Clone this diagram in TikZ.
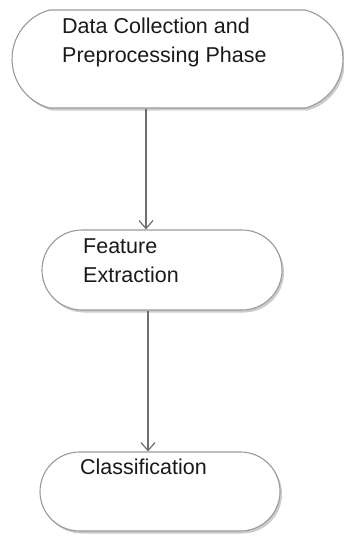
\documentclass[tikz,border=0pt]{standalone}
\usepackage{fontspec}
\setmainfont{Liberation Sans}
\usepackage{xcolor}
\usetikzlibrary{shapes.misc,shadows,arrows.meta}

\definecolor{boxline}{HTML}{9A9A9A}
\definecolor{flowline}{HTML}{6E6E6E}
\definecolor{boxtext}{HTML}{1A1A1A}

\begin{document}
\begin{tikzpicture}[x=1pt,y=-1pt]
\tikzstyle{every node}+=[inner sep=0pt]
\tikzstyle{phase}=[rounded rectangle,draw=boxline,line width=1.1pt,fill=white,
  drop shadow={shadow xshift=2pt,shadow yshift=-2.5pt,fill=black!40,opacity=0.5}]
\tikzstyle{label}=[anchor=base west,align=left,text=boxtext,
  font=\fontsize{21.5}{29}\selectfont]
\tikzstyle{flow}=[draw=flowline,line width=1.2pt,-{Straight Barb[length=8pt,width=14pt]}]
\useasboundingbox (0,0) rectangle (344,536);
\node [phase,minimum width=331pt,minimum height=98pt,rounded rectangle arc length=150] (data) at (177.5,59) {};
\node [label] (datatxt) at (62,62) {Data Collection and\\Preprocessing Phase};
\node [phase,minimum width=240pt,minimum height=80pt] (feat) at (162,270) {};
\node [label] (feattxt) at (83,282) {Feature\\Extraction};
\node [phase,minimum width=240pt,minimum height=79pt] (cls) at (160,491.5) {};
\node [label] (clstxt) at (80,474) {Classification};
\draw [flow] ([xshift=-31.5pt]data.south) -- ([xshift=-16pt]feat.north);
\draw [flow] ([xshift=-14pt]feat.south) -- ([xshift=-12pt]cls.north);
\end{tikzpicture}
\end{document}
